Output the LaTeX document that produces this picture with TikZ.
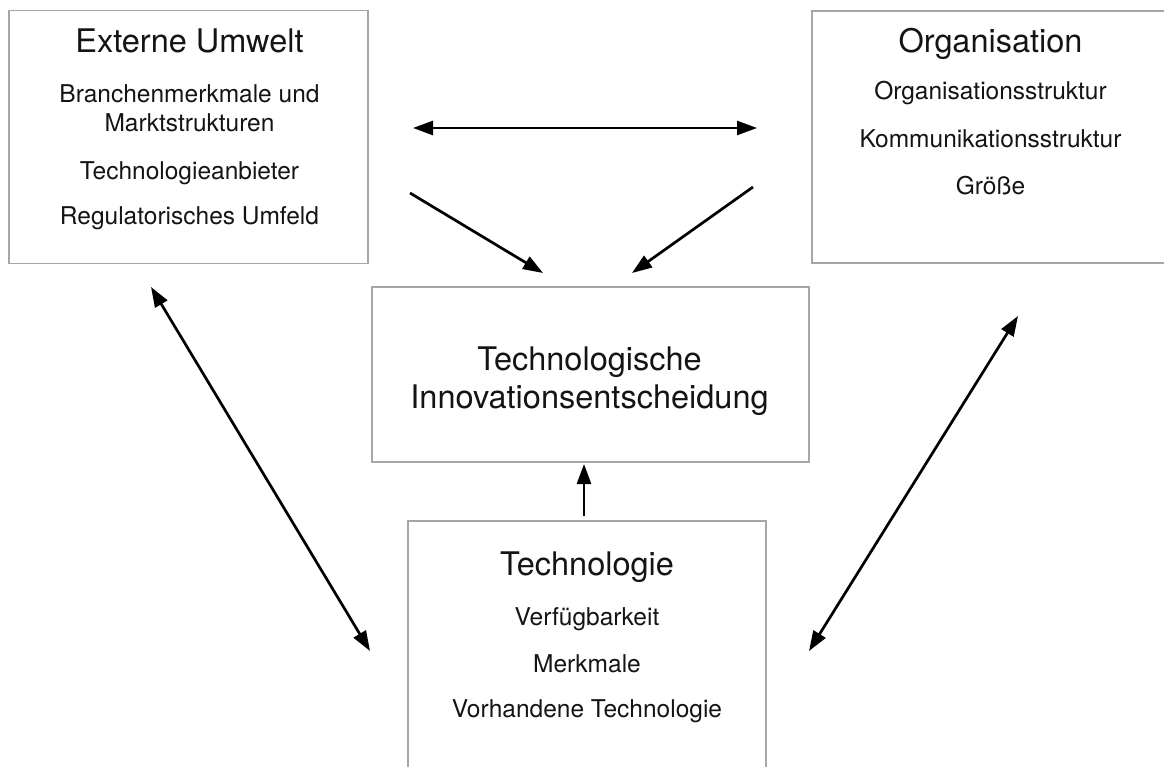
\documentclass[tikz,border=0pt]{standalone}
\usepackage{fontspec}
\setmainfont{TeX Gyre Heros}
\usetikzlibrary{arrows.meta}

\definecolor{txt}{HTML}{141414}
\definecolor{frame}{HTML}{A6A6A6}

\tikzset{
  box/.style={draw=frame, line width=1.2pt, rectangle, inner sep=0pt, outer sep=0pt},
  title/.style={anchor=base, inner sep=0pt, text=txt, font=\fontsize{32.5}{36}\selectfont},
  item/.style={anchor=base, inner sep=0pt, text=txt, font=\fontsize{24.5}{28}\selectfont},
  link/.style={line width=2.7pt, -{Triangle[length=20pt,width=14pt]}},
  dlink/.style={line width=2.7pt, {Triangle[length=20pt,width=14pt]}-{Triangle[length=20pt,width=14pt]}}
}

\begin{document}
\begin{tikzpicture}[x=1pt,y=-1pt]
\useasboundingbox (0,0) rectangle (1164,767);
\clip (0,0) rectangle (1164,767);

% boxes
\node[box, minimum width=359pt, minimum height=253pt] (ext) at (188.5,137) {};
\node[box, minimum width=356pt, minimum height=252pt] (org) at (990,137) {};
\node[box, minimum width=437pt, minimum height=175pt] (dec) at (590.5,374.5) {};
\node[box, minimum width=358pt, minimum height=279pt] (tec) at (587,660.5) {};

% Externe Umwelt
\node[title] (extT) at (189.5,53) {Externe Umwelt};
\node[item] (ext1) at (189.5,102.5) {Branchenmerkmale und};
\node[item] (ext2) at (189.5,131.5) {Marktstrukturen};
\node[item] (ext3) at (189.5,180) {Technologieanbieter};
\node[item] (ext4) at (189.5,225) {Regulatorisches Umfeld};

% Organisation
\node[title] (orgT) at (990.5,53) {Organisation};
\node[item] (org1) at (990.5,100) {Organisationsstruktur};
\node[item] (org2) at (990.5,148) {Kommunikationsstruktur};
\node[item] (org3) at (990.5,195) {Größe};

% Entscheidung
\node[title] (decT1) at (589.5,370) {Technologische};
\node[title] (decT2) at (589.5,408) {Innovationsentscheidung};

% Technologie
\node[title] (tecT) at (587,575) {Technologie};
\node[item] (tec1) at (587,625) {Verfügbarkeit};
\node[item] (tec2) at (587,672) {Merkmale};
\node[item] (tec3) at (587,717) {Vorhandene Technologie};

% arrow end points
\coordinate (eo1) at (413,128);
\coordinate (eo2) at (757,128);
\coordinate (ed1) at (410,193);
\coordinate (ed2) at (543,273);
\coordinate (od1) at (753,187);
\coordinate (od2) at (632,273);
\coordinate (et1) at (151,287);
\coordinate (et2) at (370,651);
\coordinate (ot1) at (1018,316);
\coordinate (ot2) at (809,651);
\coordinate (td1) at (584,516);
\coordinate (td2) at (584,464);

% connectors
\draw[dlink] (eo1) -- (eo2);
\draw[link] (ed1) -- (ed2);
\draw[link] (od1) -- (od2);
\draw[dlink] (et1) -- (et2);
\draw[dlink] (ot1) -- (ot2);
\draw[link] (td1) -- (td2);
\end{tikzpicture}
\end{document}
